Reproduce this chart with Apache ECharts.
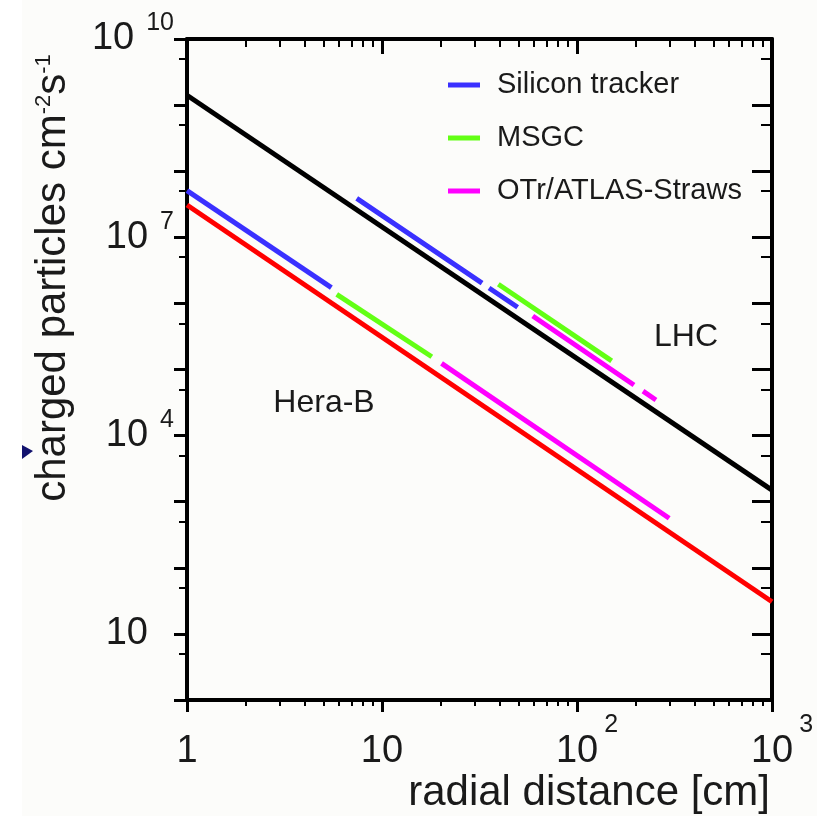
<!DOCTYPE html>
<html><head><meta charset="utf-8">
<script src="https://cdn.jsdelivr.net/npm/echarts@6/dist/echarts.min.js"></script>
<style>html,body{margin:0;padding:0;background:#fcfcfa}#c{width:817px;height:816px}</style>
</head><body><div id="c"></div>
<script>
// ---- axis ticks & labels ----
const xTickValues = [1, 10, 100, 1000];
const xTickBase = ['1', '10', '10', '10'];
const xTickExp = ['', '', '2', '3'];
const xMinorTicks = [2, 3, 4, 5, 6, 7, 8, 9, 20, 30, 40, 50, 60, 70, 80, 90, 200, 300, 400, 500, 600, 700, 800, 900];
const yMajorTicks = [1, 10, 100, 1e3, 1e4, 1e5, 1e6, 1e7, 1e8, 1e9, 1e10];
const yMinorTicks = [5, 50, 500, 5e3, 5e4, 5e5, 5e6, 5e7, 5e8, 5e9];
const yLabelValues = [10, 1e4, 1e7, 1e10];
const yLabelBase = ['10', '10', '10', '10'];
const yLabelExp = ['', '4', '7', '10'];

// ---- series (radial distance [cm], charged particles cm^-2 s^-1); '-' marks a small gap ----
const lhcR = [1, 1000];
const lhcRate = [1.41e9, 1.5e3];
const heraR = [1, 1000];
const heraRate = [3.08e7, 30.7];
const siHeraR = [1, 5.5];
const siHeraRate = [5.07e7, 1.73e6];
const msgcHeraR = [5.86, 18.0];
const msgcHeraRate = [1.37e6, 1.56e5];
const otrHeraR = [20.2, 297];
const otrHeraRate = [1.24e5, 561];
const siLhcR = [7.42, 32.6, 34, 35.4, 49.6];
const siLhcRate = [3.89e7, 2.03e6, '-', 1.71e6, 8.73e5];
const msgcLhcR = [39.5, 150.6];
const msgcLhcRate = [1.95e6, 1.35e5];
const otrLhcR = [59.3, 196, 207, 218, 254];
const otrLhcRate = [6.44e5, 5.82e4, '-', 4.71e4, 3.46e4];

const legendNames = ['Silicon tracker', 'MSGC', 'OTr/ATLAS-Straws'];
const COL = { si: '#3a30ff', msgc: '#62ff14', otr: '#ff00ff', lhc: '#000000', hera: '#ff0000' };

const FONT = "'Liberation Sans', Arial, Helvetica, sans-serif";
const TXT = '#1a1a1a';

function findIdx(arr, v) {
  return arr.findIndex(t => Math.abs(Math.log10(t) - Math.log10(v)) < 1e-6);
}

function axis(extra) {
  return Object.assign({
    type: 'log', logBase: 10, gridIndex: 0,
    axisLine: { show: false, onZero: false },
    splitLine: { show: false },
    minorTick: { show: false },
    minorSplitLine: { show: false },
    axisLabel: { show: false },
    axisPointer: { show: false },
    silent: true
  }, extra);
}
const lineStyleAxis = { color: '#000', width: 4 };

const xAxes = [
  axis({ min: 1, max: 1000, position: 'bottom',
    axisLine: { show: true, onZero: false, lineStyle: lineStyleAxis },
    axisTick: { show: true, inside: false, length: 12, lineStyle: { color: '#000', width: 3 }, customValues: xTickValues },
    axisLabel: { show: true, customValues: xTickValues, margin: 13, color: TXT,
      formatter: function (v) {
        const i = findIdx(xTickValues, v);
        if (i < 0) return '';
        return xTickExp[i] ? '{p|}{b|' + xTickBase[i] + '}{s|' + xTickExp[i] + '}' : '{b|' + xTickBase[i] + '}';
      },
      rich: {
        b: { fontSize: 38, lineHeight: 78, fontFamily: FONT, color: TXT },
        s: { fontSize: 25, lineHeight: 25, fontFamily: FONT, color: TXT, verticalAlign: 'top', padding: [0, 0, 0, 6] },
        p: { width: 20 }
      }
    }
  }),
  axis({ min: 1, max: 1000, position: 'bottom',
    axisTick: { show: true, inside: false, length: 6, lineStyle: { color: '#000', width: 2 }, customValues: xMinorTicks } }),
  axis({ min: 1, max: 1000, position: 'top',
    axisLine: { show: true, onZero: false, lineStyle: lineStyleAxis },
    axisTick: { show: true, inside: true, length: 15, lineStyle: { color: '#000', width: 3 }, customValues: xTickValues } }),
  axis({ min: 1, max: 1000, position: 'top',
    axisTick: { show: true, inside: true, length: 8, lineStyle: { color: '#000', width: 2 }, customValues: xMinorTicks } })
];

const yAxes = [
  axis({ min: 1, max: 1e10, position: 'left',
    axisLine: { show: true, onZero: false, lineStyle: lineStyleAxis },
    axisTick: { show: true, inside: false, length: 13, lineStyle: { color: '#000', width: 3 }, customValues: yMajorTicks },
    axisLabel: { show: true, customValues: yLabelValues, margin: 13, color: TXT,
      formatter: function (v) {
        const i = findIdx(yLabelValues, v);
        if (i < 0) return '';
        return yLabelExp[i] ? '{b|' + yLabelBase[i] + '}{s|' + yLabelExp[i] + '}' : '{b|' + yLabelBase[i] + '}{q|}';
      },
      rich: {
        b: { fontSize: 38, lineHeight: 56, fontFamily: FONT, color: TXT },
        s: { fontSize: 25, lineHeight: 25, fontFamily: FONT, color: TXT, verticalAlign: 'top', padding: [0, 0, 0, 12] },
        q: { width: 26 }
      }
    }
  }),
  axis({ min: 1, max: 1e10, position: 'left',
    axisTick: { show: true, inside: false, length: 8, lineStyle: { color: '#000', width: 2 }, customValues: yMinorTicks } }),
  axis({ min: 1, max: 1e10, position: 'right',
    axisLine: { show: true, onZero: false, lineStyle: lineStyleAxis },
    axisTick: { show: true, inside: true, length: 20, lineStyle: { color: '#000', width: 3 }, customValues: yMajorTicks } }),
  axis({ min: 1, max: 1e10, position: 'right',
    axisTick: { show: true, inside: true, length: 11, lineStyle: { color: '#000', width: 2 }, customValues: yMinorTicks } })
];

function seg(name, color, r, v, z) {
  return {
    type: 'line', name: name, xAxisIndex: 0, yAxisIndex: 0,
    data: r.map((x, i) => [x, v[i]]),
    connectNulls: false,
    showSymbol: false, symbol: 'none', silent: true, z: z,
    lineStyle: { color: color, width: 5, cap: 'butt' },
    itemStyle: { color: color }
  };
}

const series = [
  seg('LHC', COL.lhc, lhcR, lhcRate, 2),
  seg('Hera-B', COL.hera, heraR, heraRate, 2),
  seg(legendNames[0], COL.si, siHeraR, siHeraRate, 3),
  seg(legendNames[0], COL.si, siLhcR, siLhcRate, 3),
  seg(legendNames[1], COL.msgc, msgcHeraR, msgcHeraRate, 3),
  seg(legendNames[1], COL.msgc, msgcLhcR, msgcLhcRate, 3),
  seg(legendNames[2], COL.otr, otrHeraR, otrHeraRate, 3),
  seg(legendNames[2], COL.otr, otrLhcR, otrLhcRate, 3)
];

const chart = echarts.init(document.getElementById('c'), null, { renderer: 'canvas' });
chart.setOption({
  animation: false,
  backgroundColor: '#fcfcfa',
  textStyle: { fontFamily: FONT },
  grid: { left: 187, top: 39, right: 45, bottom: 116, containLabel: false, outerBoundsMode: 'none' },
  xAxis: xAxes,
  yAxis: yAxes,
  legend: {
    data: legendNames, orient: 'vertical', left: 448, top: 70, padding: 0,
    itemWidth: 32, itemHeight: 5, itemGap: 23, icon: 'rect', selectedMode: false,
    textStyle: { fontSize: 29, fontFamily: FONT, color: TXT, lineHeight: 30, padding: [0, 0, 0, 12] }
  },
  series: series,
  graphic: [
    { type: 'rect', left: 0, top: 0, shape: { width: 22, height: 816 }, style: { fill: '#ffffff' }, silent: true },
    { type: 'polygon', shape: { points: [[22, 445], [33, 451], [22, 459]] }, style: { fill: '#12126e' }, silent: true },
    { type: 'text', x: 686, y: 337, silent: true,
      style: { text: 'LHC', fontSize: 32, fontFamily: FONT, fill: TXT, align: 'center', verticalAlign: 'middle' } },
    { type: 'text', x: 324, y: 403, silent: true,
      style: { text: 'Hera-B', fontSize: 32, fontFamily: FONT, fill: TXT, align: 'center', verticalAlign: 'middle' } },
    { type: 'text', x: 770, y: 793, silent: true,
      style: { text: 'radial distance [cm]', fontSize: 42, fontFamily: FONT, fill: TXT, align: 'right', verticalAlign: 'middle' } },
    { type: 'text', x: 53, y: 278, rotation: Math.PI / 2, silent: true,
      style: {
        text: '{t|charged particles cm}{s|-2}{t|s}{s|-1}',
        fill: TXT, align: 'center', verticalAlign: 'middle', fontSize: 42, fontFamily: FONT,
        rich: {
          t: { fontSize: 42, lineHeight: 40, fontFamily: FONT, fill: TXT },
          s: { fontSize: 22, lineHeight: 22, fontFamily: FONT, fill: TXT, verticalAlign: 'top' }
        }
      } }
  ]
});
</script>
</body></html>
